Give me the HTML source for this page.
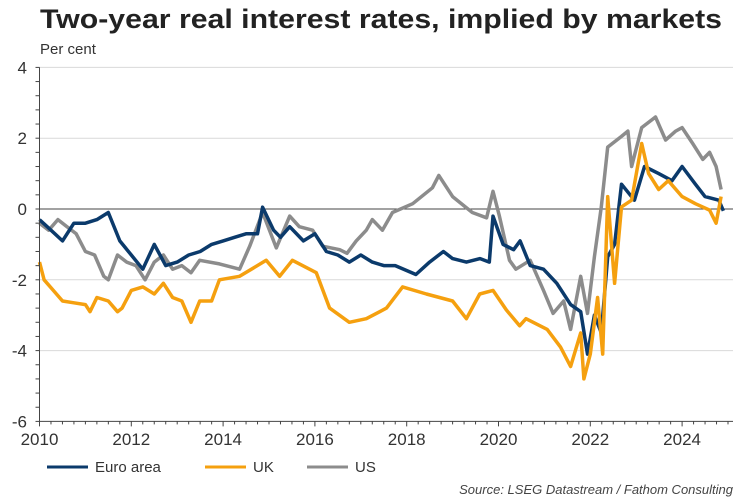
<!DOCTYPE html>
<html><head><meta charset="utf-8">
<style>
body{margin:0;background:#fff;}
svg{display:block;font-family:"Liberation Sans",sans-serif;}
</style></head>
<body>
<svg id="chart" width="750" height="500" viewBox="0 0 750 500">
<text x="40" y="28" font-size="27" font-weight="bold" fill="#222" textLength="682" lengthAdjust="spacingAndGlyphs">Two-year real interest rates, implied by markets</text>
<text x="40" y="54" font-size="15" fill="#333">Per cent</text>
<g id="grid"></g>
<g id="series"></g>
<g id="axes"></g>
<g>
<g><line x1="47" y1="467" x2="88" y2="467" stroke="#0b3a6b" stroke-width="3"/><text x="95" y="472" font-size="15" fill="#333">Euro area</text></g>
<g><line x1="205" y1="467" x2="246" y2="467" stroke="#f5a00f" stroke-width="3"/><text x="253" y="472" font-size="15" fill="#333">UK</text></g>
<g><line x1="307" y1="467" x2="348" y2="467" stroke="#8c8c8c" stroke-width="3"/><text x="355" y="472" font-size="15" fill="#333">US</text></g>
</g>
<text x="733" y="494" font-size="13" font-style="italic" fill="#444" text-anchor="end">Source: LSEG Datastream / Fathom Consulting</text>
</svg>
<script>
const yTicks=[4,2,0,-2,-4,-6];
const xTickYears=[2010,2012,2014,2016,2018,2020,2022,2024];
const euroX=[2010,2010.25,2010.5,2010.75,2011,2011.25,2011.5,2011.75,2012,2012.25,2012.5,2012.75,2013,2013.25,2013.5,2013.75,2014,2014.25,2014.5,2014.75,2014.86,2015.1,2015.25,2015.45,2015.75,2016,2016.25,2016.5,2016.75,2017,2017.25,2017.5,2017.75,2018.2,2018.5,2018.8,2019.0,2019.3,2019.6,2019.8,2019.88,2020.1,2020.33,2020.47,2020.69,2020.98,2021.27,2021.57,2021.79,2021.94,2022.09,2022.24,2022.38,2022.53,2022.68,2022.96,2023.18,2023.49,2023.78,2024.0,2024.29,2024.5,2024.8,2024.9];
const euroY=[-0.3,-0.6,-0.9,-0.4,-0.4,-0.3,-0.1,-0.9,-1.3,-1.7,-1.0,-1.6,-1.5,-1.3,-1.2,-1.0,-0.9,-0.8,-0.7,-0.7,0.05,-0.6,-0.8,-0.5,-0.9,-0.7,-1.2,-1.3,-1.5,-1.3,-1.5,-1.6,-1.6,-1.85,-1.5,-1.2,-1.4,-1.5,-1.4,-1.5,-0.2,-1.0,-1.15,-0.9,-1.6,-1.7,-2.1,-2.7,-2.9,-4.1,-3.0,-3.5,-1.35,-1.0,0.7,0.25,1.2,1.0,0.8,1.2,0.7,0.35,0.25,-0.05];
const ukX=[2010,2010.1,2010.3,2010.5,2010.75,2011,2011.1,2011.25,2011.5,2011.7,2011.8,2012,2012.25,2012.5,2012.7,2012.9,2013.1,2013.3,2013.49,2013.75,2013.92,2014.36,2014.94,2015.23,2015.51,2016.03,2016.32,2016.75,2017.12,2017.56,2017.91,2018.43,2019.0,2019.3,2019.59,2019.88,2020.17,2020.46,2020.6,2021.06,2021.35,2021.57,2021.79,2021.86,2022.0,2022.16,2022.27,2022.38,2022.53,2022.68,2022.9,2023.12,2023.27,2023.49,2023.7,2024.0,2024.29,2024.6,2024.74,2024.85];
const ukY=[-1.5,-2.0,-2.3,-2.6,-2.65,-2.7,-2.9,-2.5,-2.6,-2.9,-2.8,-2.3,-2.2,-2.4,-2.1,-2.5,-2.6,-3.2,-2.6,-2.6,-2.0,-1.9,-1.45,-1.9,-1.45,-1.8,-2.8,-3.2,-3.1,-2.8,-2.2,-2.4,-2.6,-3.1,-2.4,-2.3,-2.85,-3.3,-3.1,-3.4,-3.9,-4.45,-3.5,-4.8,-4.1,-2.5,-4.1,0.35,-2.1,0.06,0.25,1.85,1.0,0.55,0.8,0.35,0.15,-0.03,-0.4,0.35];
const usX=[2010,2010.2,2010.4,2010.6,2010.8,2011,2011.2,2011.4,2011.5,2011.7,2011.9,2012.1,2012.3,2012.5,2012.7,2012.9,2013.1,2013.3,2013.49,2013.92,2014.36,2014.58,2014.86,2015.16,2015.45,2015.66,2015.95,2016.17,2016.54,2016.7,2016.9,2017.12,2017.25,2017.47,2017.69,2018.13,2018.56,2018.7,2019.0,2019.43,2019.74,2019.88,2020.02,2020.24,2020.38,2020.69,2020.98,2021.19,2021.42,2021.57,2021.79,2021.94,2022.09,2022.24,2022.38,2022.68,2022.82,2022.9,2023.12,2023.42,2023.64,2023.86,2024.0,2024.23,2024.45,2024.6,2024.74,2024.85];
const usY=[-0.4,-0.6,-0.3,-0.5,-0.7,-1.2,-1.3,-1.9,-2.0,-1.3,-1.5,-1.6,-2.0,-1.5,-1.3,-1.7,-1.6,-1.8,-1.45,-1.55,-1.7,-1.05,-0.1,-1.1,-0.2,-0.5,-0.6,-1.05,-1.15,-1.25,-0.9,-0.6,-0.3,-0.6,-0.1,0.15,0.6,0.95,0.35,-0.1,-0.25,0.5,-0.2,-1.45,-1.7,-1.45,-2.3,-2.95,-2.6,-3.4,-1.9,-2.95,-1.35,0.06,1.75,2.05,2.2,1.2,2.3,2.6,1.95,2.2,2.3,1.85,1.4,1.6,1.2,0.55];

const NS='http://www.w3.org/2000/svg';
const X0=39.5,PX_PER_YEAR=45.9,Y0=209,PX_PER_UNIT=35.4,XRIGHT=733;
function xs(yr){return X0+(yr-2010)*PX_PER_YEAR;}
function ys(v){return Y0-v*PX_PER_UNIT;}
function mk(tag,attrs,parent){const e=document.createElementNS(NS,tag);for(const k in attrs)e.setAttribute(k,attrs[k]);parent.appendChild(e);return e;}
const grid=document.getElementById('grid'),axes=document.getElementById('axes'),series=document.getElementById('series');
yTicks.forEach(v=>{
  if(v!==0&&v!==-6){
    const g=mk('line',{x1:X0,x2:XRIGHT,y1:ys(v),y2:ys(v),stroke:'#d9d9d9','stroke-width':1},grid);
    
    
  }
  const t=mk('text',{x:27,y:ys(v)+6,'font-size':17,fill:'#333','text-anchor':'end'},axes);
  t.textContent=String(v);
  
  
});
for(let v=-6;v<=4.001;v+=0.4){mk('line',{x1:X0-4,x2:X0,y1:ys(v),y2:ys(v),stroke:'#444','stroke-width':1},axes);}
const zl=mk('line',{x1:X0,x2:XRIGHT,y1:ys(0),y2:ys(0),stroke:'#444','stroke-width':1},grid);


const ya=mk('line',{x1:X0,x2:X0,y1:ys(4),y2:ys(-6),stroke:'#444','stroke-width':1},axes);


const xa=mk('line',{x1:X0,x2:XRIGHT,y1:ys(-6),y2:ys(-6),stroke:'#444','stroke-width':1},axes);


for(let m=0;m<=15.4*4;m++){const yr=2010+m/4;if(xs(yr)>XRIGHT)break;mk('line',{x1:xs(yr),x2:xs(yr),y1:ys(-6),y2:ys(-6)+(m%8===0?5:3),stroke:'#444','stroke-width':1},axes);}
xTickYears.forEach(yr=>{
  const t=mk('text',{x:xs(yr),y:445,'font-size':17,fill:'#333','text-anchor':'middle'},axes);
  t.textContent=String(yr);
  
  
});
function draw(xa,ya,color,name){
  const pts=xa.map((x,i)=>xs(x).toFixed(1)+','+ys(ya[i]).toFixed(1)).join(' ');
  const p=mk('polyline',{points:pts,fill:'none',stroke:color,'stroke-width':3.5,'stroke-linejoin':'round'},series);
  
  
}
draw(usX,usY,'#8c8c8c','us-line');
draw(euroX,euroY,'#0b3a6b','euro-area-line');
draw(ukX,ukY,'#f5a00f','uk-line');
</script>
</body></html>
